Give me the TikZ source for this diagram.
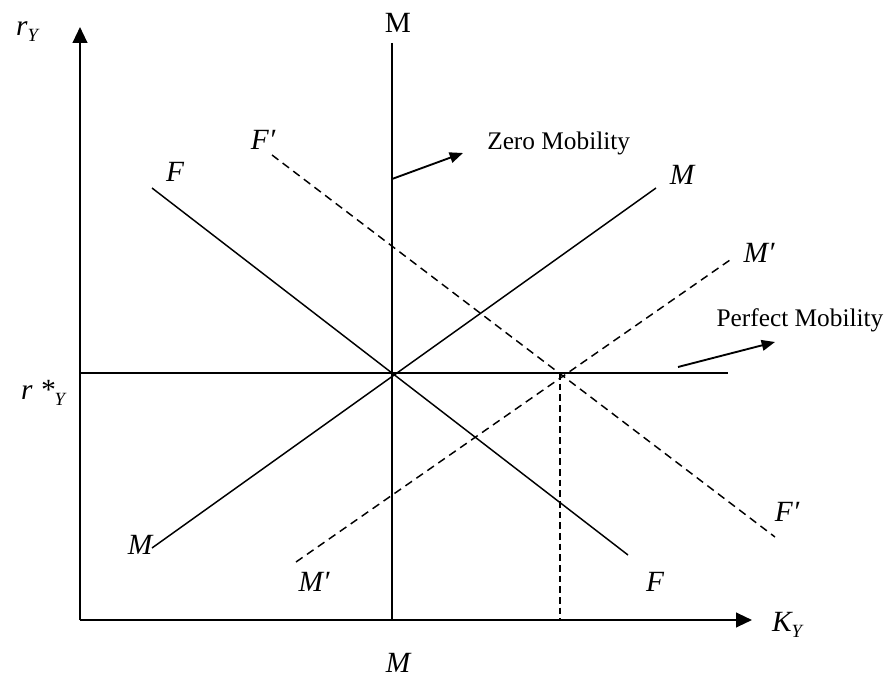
\documentclass[tikz,border=0pt]{standalone}
\usepackage{fontspec}
\setmainfont{Liberation Serif}
\usetikzlibrary{arrows.meta}
\newcommand{\subY}{\raisebox{-0.45ex}{\fontsize{14}{14}\selectfont\itshape Y}}

\begin{document}
\begin{tikzpicture}[x=0.75pt,y=-0.75pt,
  axis/.style={line width=1.6pt,-{Triangle[length=12pt,width=11pt]}},
  curve/.style={line width=1.1pt},
  shifted/.style={curve,dash pattern=on 6pt off 4pt},
  guide/.style={line width=0.9pt,dash pattern=on 5pt off 3pt},
  pointer/.style={line width=1.4pt,-{Triangle[length=10pt,width=8pt]}},
  lbl/.style={font=\fontsize{22}{24}\selectfont\itshape,inner sep=0pt},
  note/.style={font=\fontsize{19}{22}\selectfont,inner sep=0pt}
]
  \useasboundingbox (0,0) rectangle (889,677);

  % axes
  \coordinate (o) at (80,620);
  \coordinate (ytop) at (80,27);
  \coordinate (xend) at (752,620);
  \draw[axis] (o) -- (ytop);
  \draw[axis] (o) -- (xend);
  \node[lbl] (ry) at (27,32) {r\subY};
  \node[lbl] (ky) at (787,625) {K\subY};

  % zero mobility (vertical M)
  \coordinate (mvtop) at (392,43);
  \coordinate (mvbot) at (392,620);
  \draw[curve] (mvtop) -- (mvbot);
  \node[lbl,font=\fontsize{22}{24}\selectfont] (mtop) at (398,23) {M};
  \node[lbl] (mbot) at (398,663) {M};

  % perfect mobility (horizontal)
  \coordinate (hleft) at (80,373);
  \coordinate (hright) at (728,373);
  \draw[curve] (hleft) -- (hright);
  \node[lbl] (rstar) at (43,393) {r *\subY};

  % F and M schedules
  \coordinate (f1) at (152,188);
  \coordinate (f2) at (628,555);
  \draw[curve] (f1) -- (f2);
  \node[lbl] (fa) at (175,172) {F};
  \node[lbl] (fb) at (655,582) {F};

  \coordinate (m1) at (152,548);
  \coordinate (m2) at (656,188);
  \draw[curve] (m1) -- (m2);
  \node[lbl] (ma) at (140,545) {M};
  \node[lbl] (mb) at (682,175) {M};

  % shifted schedules
  \coordinate (fp1) at (272,155);
  \coordinate (fp2) at (775,537);
  \draw[shifted] (fp1) -- (fp2);
  \node[lbl] (fpa) at (263,140) {F′};
  \node[lbl] (fpb) at (787,512) {F′};

  \coordinate (mp1) at (296,562);
  \coordinate (mp2) at (730,260);
  \draw[shifted] (mp1) -- (mp2);
  \node[lbl] (mpa) at (314,582) {M′};
  \node[lbl] (mpb) at (759,253) {M′};

  \coordinate (cross) at (560,373);
  \coordinate (foot) at (560,620);
  \draw[guide] (cross) -- (foot);

  % pointers
  \coordinate (z1) at (392,179);
  \coordinate (z2) at (463,153);
  \draw[pointer] (z1) -- (z2);
  \node[note,anchor=west] (zero) at (487,143) {Zero Mobility};

  \coordinate (p1) at (678,367);
  \coordinate (p2) at (775,342);
  \draw[pointer] (p1) -- (p2);
  \node[note] (perfect) at (800,320) {Perfect Mobility};
\end{tikzpicture}
\end{document}
